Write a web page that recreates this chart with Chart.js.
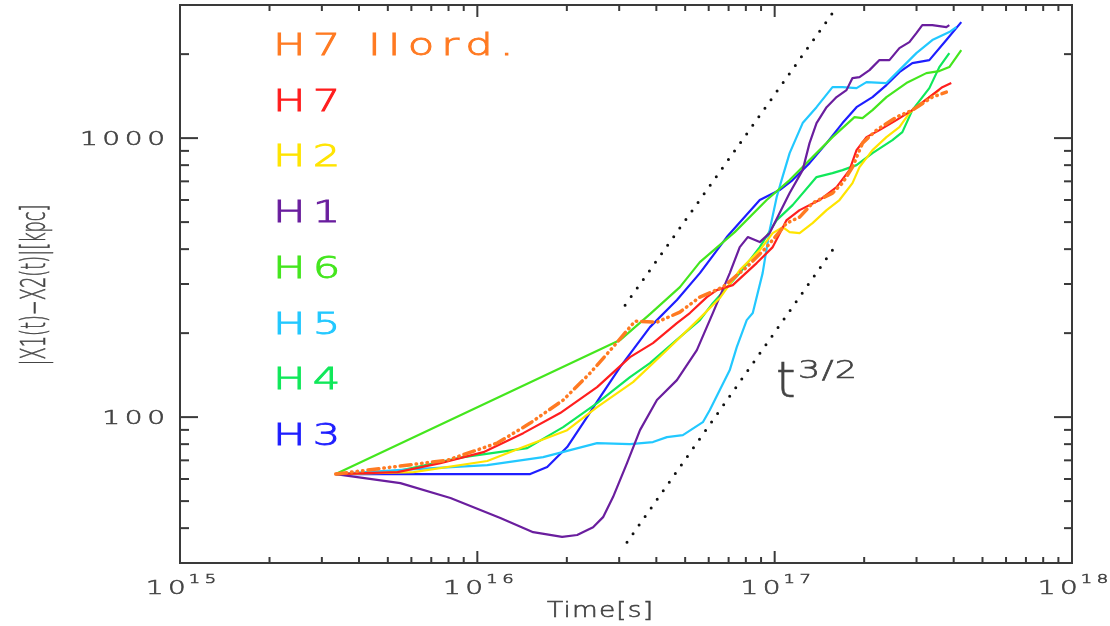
<!DOCTYPE html>
<html>
<head>
<meta charset="UTF-8">
<title>|X1(t)-X2(t)| vs Time</title>
<script src="https://cdn.jsdelivr.net/npm/chart.js"></script>
<style>
  body { margin: 0; background: #fff; }
  canvas { display: block; }
</style>
</head>
<body>
<canvas id="sepChart" width="1110" height="626"></canvas>
<script>
// time [s] and separation [kpc]
const h7iiT = [3.34e15, 7.93e15, 1.167e16, 1.506e16, 1.944e16, 2.394e16, 2.86e16, 3.39e16, 4.018e16, 4.80e16, 5.603e16, 6.692e16, 8.054e16, 9.40e16, 1.097e17, 1.213e17, 1.341e17, 1.565e17, 1.691e17, 1.827e17, 1.974e17, 2.199e17, 2.567e17, 2.904e17, 3.39e17, 3.779e17];
const h7iiR = [62.5, 70.1, 80.7, 95.2, 115.1, 143.8, 178.2, 220.8, 219.0, 237.8, 269.3, 292.4, 344.9, 406.8, 495.8, 521.1, 584.8, 635.4, 690.0, 787.1, 959.5, 1068, 1189, 1260, 1403, 1462];

const h7T = [3.34e15, 5.39e15, 7.51e15, 1.048e16, 1.427e16, 1.899e16, 2.528e16, 3.262e16, 3.896e16, 4.69e16, 5.186e16, 5.914e16, 6.389e16, 7.228e16, 8.70e16, 9.85e16, 1.097e17, 1.213e17, 1.416e17, 1.615e17, 1.785e17, 1.885e17, 2.036e17, 2.251e17, 2.567e17, 2.904e17, 3.313e17, 3.663e17, 3.926e17];
const h7R = [62.5, 63.5, 68.4, 74.9, 87.6, 103.4, 128.1, 164.1, 184.2, 217.3, 236.0, 269.3, 285.2, 297.2, 356.5, 406.8, 508.3, 552.0, 599.9, 667.6, 767.9, 905.7, 1008, 1068, 1160, 1260, 1403, 1523, 1575];

const h2T = [3.34e15, 6.10e15, 1.08e16, 1.427e16, 2.005e16, 2.528e16, 3.339e16, 4.342e16, 5.603e16, 6.538e16, 7.631e16, 8.91e16, 9.85e16, 1.064e17, 1.123e17, 1.213e17, 1.341e17, 1.495e17, 1.652e17, 1.827e17, 1.929e17, 2.133e17, 2.376e17, 2.627e17, 2.838e17, 2.996e17, 3.313e17, 3.579e17];
const h2R = [62.5, 63.5, 69.6, 78.1, 89.8, 108.6, 133.5, 173.9, 226.4, 267.1, 336.5, 396.8, 456.6, 479.7, 460.3, 456.6, 495.8, 552.0, 599.9, 690.0, 787.1, 905.7, 1008, 1095, 1229, 1291, 1403, 1486];

const h1T = [3.34e15, 5.51e15, 8.12e15, 1.195e16, 1.541e16, 1.928e16, 2.166e16, 2.451e16, 2.648e16, 2.86e16, 3.187e16, 3.524e16, 4.018e16, 4.69e16, 5.474e16, 6.194e16, 7.063e16, 7.631e16, 8.12e16, 8.91e16, 9.62e16, 1.039e17, 1.123e17, 1.242e17, 1.31e17, 1.383e17, 1.495e17, 1.615e17, 1.744e17, 1.827e17, 1.929e17, 2.084e17, 2.251e17, 2.432e17, 2.627e17, 2.838e17, 2.996e17, 3.137e17, 3.39e17, 3.779e17, 3.867e17];
const h1R = [62.5, 58.0, 51.3, 43.5, 38.7, 37.2, 37.8, 40.3, 43.8, 51.7, 68.4, 89.8, 115.1, 135.7, 173.9, 236.0, 328.2, 406.8, 441.8, 424.0, 456.6, 538.6, 635.4, 767.9, 959.5, 1132, 1291, 1403, 1486, 1641, 1654, 1753, 1904, 1904, 2102, 2209, 2378, 2541, 2541, 2499, 2541];

const h6T = [3.34e15, 3.02e16, 3.807e16, 4.80e16, 5.603e16, 7.34e16, 9.40e16, 1.123e17, 1.31e17, 1.565e17, 1.856e17, 1.974e17, 2.133e17, 2.376e17, 2.773e17, 3.237e17, 3.579e17, 3.867e17, 4.242e17];
const h6R = [62.5, 188.8, 234.0, 292.4, 359.4, 460.3, 599.9, 707.3, 834.0, 1008, 1189, 1179, 1260, 1403, 1575, 1710, 1739, 1797, 2067];

const h5T = [3.34e15, 5.39e15, 1.08e16, 1.665e16, 2.528e16, 3.262e16, 3.896e16, 4.342e16, 4.912e16, 5.734e16, 6.052e16, 6.538e16, 7.063e16, 7.456e16, 8.054e16, 8.44e16, 9.11e16, 9.62e16, 1.016e17, 1.055e17, 1.123e17, 1.242e17, 1.383e17, 1.565e17, 1.691e17, 1.885e17, 2.036e17, 2.376e17, 2.627e17, 2.996e17, 3.39e17, 3.867e17, 4.081e17];
const h5R = [62.5, 64.6, 67.3, 71.9, 80.7, 80.0, 81.4, 84.8, 86.2, 95.9, 106.0, 125.0, 147.4, 178.2, 222.7, 236.0, 328.2, 468.0, 614.9, 707.3, 883.9, 1132, 1291, 1523, 1523, 1511, 1588, 1575, 1753, 2017, 2246, 2399, 2499];

const h4T = [3.34e15, 5.39e15, 8.98e15, 1.472e16, 1.944e16, 2.528e16, 3.262e16, 3.807e16, 4.80e16, 5.603e16, 6.194e16, 7.631e16, 8.91e16, 1.016e17, 1.149e17, 1.383e17, 1.565e17, 1.691e17, 1.885e17, 2.133e17, 2.489e17, 2.688e17, 2.904e17, 3.313e17, 3.579e17, 3.867e17];
const h4R = [62.5, 64.05, 71.9, 77.4, 92.1, 112.2, 139.1, 156.1, 193.5, 222.7, 256.2, 328.2, 406.8, 508.3, 575.3, 725.0, 748.9, 767.9, 800.2, 883.9, 983.6, 1051, 1260, 1511, 1797, 2017];

const h3T = [3.34e15, 1.506e16, 1.718e16, 2.005e16, 2.268e16, 2.587e16, 3.02e16, 3.807e16, 4.69e16, 5.603e16, 6.901e16, 8.91e16, 1.039e17, 1.149e17, 1.31e17, 1.495e17, 1.691e17, 1.885e17, 2.133e17, 2.376e17, 2.627e17, 2.904e17, 3.313e17, 3.779e17, 4.242e17];
const h3R = [62.5, 62.5, 66.2, 78.1, 95.2, 117.9, 151.1, 210.2, 262.7, 328.2, 441.8, 599.9, 651.3, 707.3, 813.5, 959.5, 1132, 1291, 1403, 1549, 1724, 1857, 1904, 2246, 2605];

// t^(3/2) guide lines (end points)
const guideUpT = [3.14e16, 1.565e17];
const guideUpR = [252, 2806];
const guideLoT = [3.187e16, 1.565e17];
const guideLoR = [35.6, 396.8];

const seriesNames = ['H7 IIord.', 'H7', 'H2', 'H1', 'H6', 'H5', 'H4', 'H3'];
const seriesColors = ['#ff7a22', '#ff1e1e', '#ffe400', '#6a1e9e', '#44e61e', '#22c8ff', '#10e85a', '#1e1eff'];

const xTickValues = [1e15, 1e16, 1e17, 1e18];
const xTickExps = ['15', '16', '17', '18'];
const yTickValues = [100, 1000];
const yTickLabels = ['100', '1000'];

function pts(t, r) {
    return t.map((v, i) => ({ x: v, y: r[i] }));
}

const series = [
    [h7iiT, h7iiR], [h7T, h7R], [h2T, h2R], [h1T, h1R],
    [h6T, h6R], [h5T, h5R], [h4T, h4R], [h3T, h3R]
];

const datasets = series.map((s, i) => ({
    label: seriesNames[i],
    data: pts(s[0], s[1]),
    borderColor: seriesColors[i],
    borderWidth: i === 0 ? 3.5 : 2.2,
    borderDash: i === 0 ? [11, 5, 0.5, 5, 0.5, 5, 0.5, 5] : [],
    borderCapStyle: i === 0 ? 'round' : 'butt',
    showLine: true,
    pointRadius: 0
}));

[[guideUpT, guideUpR], [guideLoT, guideLoR]].forEach(g => {
    datasets.push({
        label: 't^3/2',
        data: pts(g[0], g[1]),
        borderColor: '#111',
        borderWidth: 3,
        borderDash: [0, 10.5],
        borderCapStyle: 'round',
        showLine: true,
        pointRadius: 0
    });
});

const FONT = '"DejaVu Sans"';

// draws text with letter spacing and a horizontal stretch
function drawText(ctx, str, x, y, o) {
    ctx.save();
    ctx.font = (o.weight || '200') + ' ' + o.size + 'px ' + FONT;
    ctx.letterSpacing = '0px';
    const sp = o.spacing || 0;
    const sx = o.sx || 1;
    const w = (ctx.measureText(str).width + sp * (str.length - 1)) * sx;
    ctx.letterSpacing = sp + 'px';
    ctx.fillStyle = o.color || '#444';
    ctx.strokeStyle = o.color || '#444';
    ctx.lineWidth = o.stroke || 0.6;
    ctx.textBaseline = o.baseline || 'alphabetic';
    ctx.textAlign = 'left';
    let x0 = x;
    if (o.align === 'center') x0 = x - w / 2;
    if (o.align === 'right') x0 = x - w;
    ctx.translate(x0, y);
    ctx.scale(sx, 1);
    ctx.fillText(str, 0, 0);
    ctx.strokeText(str, 0, 0);
    ctx.restore();
    return w;
}

function textWidth(ctx, str, o) {
    ctx.save();
    ctx.font = (o.weight || '200') + ' ' + o.size + 'px ' + FONT;
    ctx.letterSpacing = '0px';
    const w = (ctx.measureText(str).width + (o.spacing || 0) * (str.length - 1)) * (o.sx || 1);
    ctx.restore();
    return w;
}

const frame = {
    id: 'frame',
    afterDatasetsDraw(chart) {
        const { ctx, chartArea: a, scales: { x, y } } = chart;
        ctx.save();
        ctx.strokeStyle = '#3a3a3a';
        ctx.lineWidth = 2;
        ctx.lineCap = 'butt';

        const seg = (x1, y1, x2, y2) => {
            ctx.beginPath();
            ctx.moveTo(x1, y1);
            ctx.lineTo(x2, y2);
            ctx.stroke();
        };

        // inward ticks on all four sides
        for (let e = 15; e < 18; e++) {
            for (let m = 1; m < 10; m++) {
                const px = x.getPixelForValue(m * Math.pow(10, e));
                const len = m === 1 ? 12 : 6;
                seg(px, a.bottom, px, a.bottom - len);
                seg(px, a.top, px, a.top + len);
            }
        }
        const yMinor = [30, 40, 50, 60, 70, 80, 90, 100, 200, 300, 400, 500, 600, 700, 800, 900, 1000, 2000, 3000];
        yMinor.forEach(v => {
            const py = y.getPixelForValue(v);
            const major = v === 100 || v === 1000;
            seg(a.left, py, a.left + (major ? 18 : 9), py);
            seg(a.right, py, a.right - (major ? 18 : 8), py);
        });

        ctx.strokeRect(a.left, a.top, a.right - a.left, a.bottom - a.top);
        ctx.restore();
    },
    afterDraw(chart) {
        const { ctx, chartArea: a, scales: { x, y } } = chart;

        // y tick labels
        yTickValues.forEach((v, i) => {
            drawText(ctx, yTickLabels[i], a.left - 15, y.getPixelForValue(v) + 7,
                { size: 20, sx: 1.4, spacing: 3.3, align: 'right', color: '#444' });
        });

        // x tick labels 10^n
        const base = { size: 20, sx: 1.4, spacing: 3.2 };
        const sup = { size: 12, sx: 1.5, spacing: 3 };
        xTickValues.forEach((v, i) => {
            const px = x.getPixelForValue(v);
            const w1 = textWidth(ctx, '10', base);
            const w2 = textWidth(ctx, xTickExps[i], sup);
            const left = px + 1 - (w1 + 3 + w2) / 2;
            drawText(ctx, '10', left, a.bottom + 31, Object.assign({ color: '#444' }, base));
            drawText(ctx, xTickExps[i], left + w1 + 3, a.bottom + 20, Object.assign({ color: '#444' }, sup));
        });

        // axis titles
        drawText(ctx, 'Time[s]', 600, 617, { size: 22, sx: 1.2, spacing: 1, align: 'center', color: '#444' });

        ctx.save();
        ctx.translate(36, 285);
        ctx.rotate(-Math.PI / 2);
        drawText(ctx, '|X1(t)\u2212X2(t)|[kpc]', 0, 0,
            { size: 33, sx: 0.54, spacing: 0, align: 'center', baseline: 'middle', color: '#444' });
        ctx.restore();

        // slope label
        drawText(ctx, 't', 776, 397, { size: 50, sx: 1.0, color: '#444' });
        drawText(ctx, '3/2', 798, 378, { size: 25, sx: 1.4, spacing: 1, color: '#444' });

        // series names inside the plot
        seriesNames.forEach((name, i) => {
            drawText(ctx, name, 273, 55 + i * 55.7,
                { size: 31, sx: 1.4, spacing: 5, color: seriesColors[i], stroke: 0.9 });
        });
    }
};

const chart = new Chart(document.getElementById('sepChart').getContext('2d'), {
    type: 'scatter',
    data: { datasets: datasets },
    options: {
        responsive: false,
        animation: false,
        layout: { padding: { left: 180, right: 38, top: 5, bottom: 63 } },
        elements: { line: { borderJoinStyle: 'round', tension: 0 } },
        scales: {
            x: { type: 'logarithmic', min: 1e15, max: 1e18, display: false },
            y: { type: 'logarithmic', min: 30, max: 3000, display: false }
        },
        plugins: {
            legend: { display: false },
            tooltip: { enabled: false }
        }
    },
    plugins: [frame]
});
</script>
</body>
</html>
